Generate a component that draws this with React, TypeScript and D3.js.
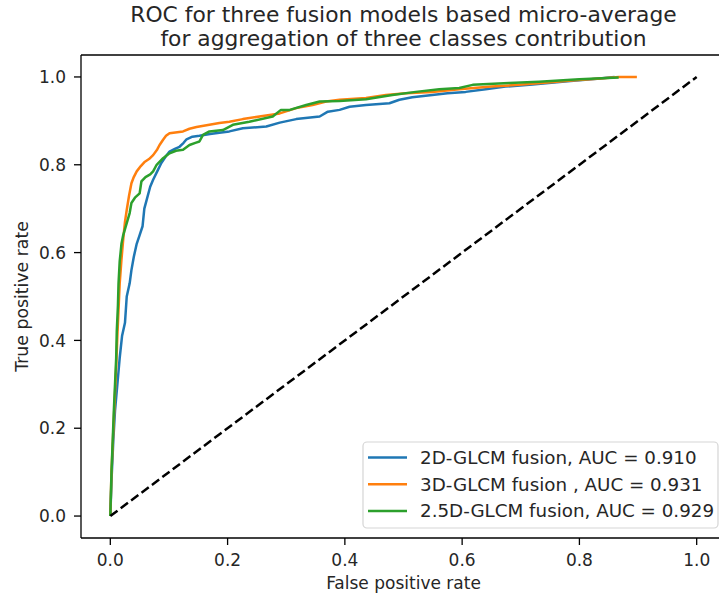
import React from "react";
import * as d3 from "d3";

// ROC points: [FPR, TPR]
const fpr2D = [0, 0.002, 0.005, 0.008, 0.012, 0.016, 0.02, 0.025, 0.028, 0.033, 0.036, 0.04, 0.045, 0.05, 0.055, 0.058, 0.062, 0.068, 0.073, 0.08, 0.087, 0.095, 0.101, 0.11, 0.118, 0.125, 0.13, 0.14, 0.152, 0.17, 0.186, 0.203, 0.226, 0.266, 0.289, 0.317, 0.357, 0.371, 0.391, 0.408, 0.436, 0.476, 0.493, 0.515, 0.549, 0.575, 0.606, 0.64, 0.674, 0.72, 0.78, 0.83, 0.86];
const tpr2D = [0, 0.08, 0.17, 0.24, 0.3, 0.36, 0.41, 0.44, 0.5, 0.53, 0.56, 0.59, 0.62, 0.64, 0.66, 0.7, 0.72, 0.75, 0.766, 0.785, 0.804, 0.82, 0.83, 0.836, 0.841, 0.85, 0.858, 0.864, 0.866, 0.87, 0.873, 0.876, 0.883, 0.887, 0.896, 0.904, 0.91, 0.921, 0.925, 0.932, 0.936, 0.94, 0.948, 0.954, 0.959, 0.963, 0.966, 0.972, 0.978, 0.983, 0.99, 0.996, 1.0];

const fpr3D = [0, 0.002, 0.004, 0.006, 0.008, 0.01, 0.012, 0.014, 0.016, 0.019, 0.022, 0.025, 0.028, 0.032, 0.036, 0.04, 0.045, 0.052, 0.059, 0.066, 0.073, 0.08, 0.084, 0.09, 0.095, 0.101, 0.124, 0.135, 0.147, 0.169, 0.186, 0.203, 0.226, 0.26, 0.289, 0.317, 0.345, 0.368, 0.391, 0.436, 0.47, 0.504, 0.549, 0.595, 0.65, 0.697, 0.74, 0.787, 0.83, 0.867, 0.898];
const tpr3D = [0, 0.1, 0.16, 0.22, 0.28, 0.34, 0.41, 0.47, 0.53, 0.584, 0.63, 0.67, 0.697, 0.73, 0.758, 0.772, 0.785, 0.797, 0.807, 0.813, 0.822, 0.835, 0.845, 0.857, 0.866, 0.872, 0.876, 0.882, 0.886, 0.891, 0.895, 0.898, 0.904, 0.911, 0.917, 0.929, 0.936, 0.944, 0.948, 0.952, 0.959, 0.963, 0.966, 0.972, 0.978, 0.982, 0.987, 0.992, 0.996, 1.0, 1.0];

const fpr25D = [0, 0.002, 0.004, 0.006, 0.008, 0.01, 0.011, 0.013, 0.014, 0.016, 0.019, 0.022, 0.028, 0.033, 0.036, 0.042, 0.05, 0.053, 0.06, 0.068, 0.073, 0.079, 0.09, 0.101, 0.112, 0.124, 0.135, 0.145, 0.152, 0.158, 0.169, 0.192, 0.209, 0.237, 0.277, 0.291, 0.306, 0.334, 0.357, 0.391, 0.436, 0.481, 0.521, 0.561, 0.595, 0.618, 0.68, 0.731, 0.8, 0.867];
const tpr25D = [0, 0.1, 0.17, 0.24, 0.3, 0.36, 0.42, 0.48, 0.53, 0.58, 0.62, 0.64, 0.667, 0.69, 0.713, 0.725, 0.735, 0.762, 0.772, 0.778, 0.785, 0.8, 0.815, 0.826, 0.832, 0.834, 0.845, 0.85, 0.853, 0.868, 0.876, 0.879, 0.891, 0.898, 0.91, 0.925, 0.925, 0.936, 0.944, 0.945, 0.949, 0.959, 0.966, 0.972, 0.975, 0.982, 0.986, 0.989, 0.995, 0.999];

const seriesLabels = [
  "2D-GLCM fusion, AUC = 0.910",
  "3D-GLCM fusion , AUC = 0.931",
  "2.5D-GLCM fusion, AUC = 0.929",
];
const seriesColors = ["#1f77b4", "#ff7f0e", "#2ca02c"];
const tickValues = [0, 0.2, 0.4, 0.6, 0.8, 1.0];
const titleLines = [
  "ROC for three fusion models based micro-average",
  "for aggregation of three classes contribution",
];

const W = 719;
const H = 599;
const FONT = "DejaVu Sans, sans-serif";

export default function App() {
  const left = 81, right = 726, top = 55, bottom = 538;
  const x = d3.scaleLinear().domain([-0.05, 1.05]).range([left, right]);
  const y = d3.scaleLinear().domain([-0.05, 1.05]).range([bottom, top]);

  const line = d3
    .line<[number, number]>()
    .x((d) => x(d[0]))
    .y((d) => y(d[1]));

  const series = [
    d3.zip(fpr2D, tpr2D) as [number, number][],
    d3.zip(fpr3D, tpr3D) as [number, number][],
    d3.zip(fpr25D, tpr25D) as [number, number][],
  ];
  const diagonal: [number, number][] = [[0, 0], [1, 1]];
  const midX = (left + right) / 2;

  return (
    <svg
      width={W}
      height={H}
      style={{ position: "absolute", left: 0, top: 0, background: "#fff" }}
      fontFamily={FONT}
    >
      {/* title */}
      {titleLines.map((t, i) => (
        <text key={t} x={midX} y={22 + i * 23.5} textAnchor="middle" fontSize={21.8} fill="#262626">
          {t}
        </text>
      ))}

      <defs>
        <clipPath id="plot">
          <rect x={left} y={top} width={right - left} height={bottom - top} />
        </clipPath>
      </defs>

      <g clipPath="url(#plot)" fill="none" strokeLinejoin="round">
        {series.map((s, i) => (
          <path key={i} d={line(s) ?? ""} stroke={seriesColors[i]} strokeWidth={2.5} />
        ))}
        <path d={line(diagonal) ?? ""} stroke="#000" strokeWidth={2.5} strokeDasharray="9,4" />
      </g>

      {/* spines */}
      <g stroke="#000" strokeWidth={1.3} fill="none">
        <line x1={left} x2={left} y1={top} y2={bottom} />
        <line x1={left} x2={right} y1={bottom} y2={bottom} />
        <line x1={left} x2={right} y1={top} y2={top} />
        <line x1={right} x2={right} y1={top} y2={bottom} />
      </g>

      {/* x ticks */}
      {tickValues.map((v) => (
        <g key={"x" + v}>
          <line x1={x(v)} x2={x(v)} y1={bottom} y2={bottom + 7} stroke="#000" strokeWidth={1.3} />
          <text x={x(v)} y={566} textAnchor="middle" fontSize={17} fill="#262626">
            {d3.format(".1f")(v)}
          </text>
        </g>
      ))}

      {/* y ticks */}
      {tickValues.map((v) => (
        <g key={"y" + v}>
          <line x1={left - 7} x2={left} y1={y(v)} y2={y(v)} stroke="#000" strokeWidth={1.3} />
          <text x={66} y={y(v)} dy="0.36em" textAnchor="end" fontSize={17} fill="#262626">
            {d3.format(".1f")(v)}
          </text>
        </g>
      ))}

      <text x={midX} y={589} textAnchor="middle" fontSize={17} fill="#262626">
        False positive rate
      </text>
      <text
        transform={`translate(28,${(top + bottom) / 2}) rotate(-90)`}
        textAnchor="middle"
        fontSize={17.3}
        fill="#262626"
      >
        True positive rate
      </text>

      {/* legend */}
      <g>
        <rect x={363} y={442} width={355} height={86} rx={4} fill="#fff" fillOpacity={0.8} stroke="#d5d5d5" strokeWidth={1.2} />
        {seriesLabels.map((lab, i) => (
          <g key={lab} transform={`translate(0,${457.5 + i * 26.7})`}>
            <line x1={368} x2={407} y1={0} y2={0} stroke={seriesColors[i]} strokeWidth={2.5} />
            <text x={420} y={0} dy="0.36em" fontSize={18.3} fill="#262626">
              {lab}
            </text>
          </g>
        ))}
      </g>
    </svg>
  );
}
